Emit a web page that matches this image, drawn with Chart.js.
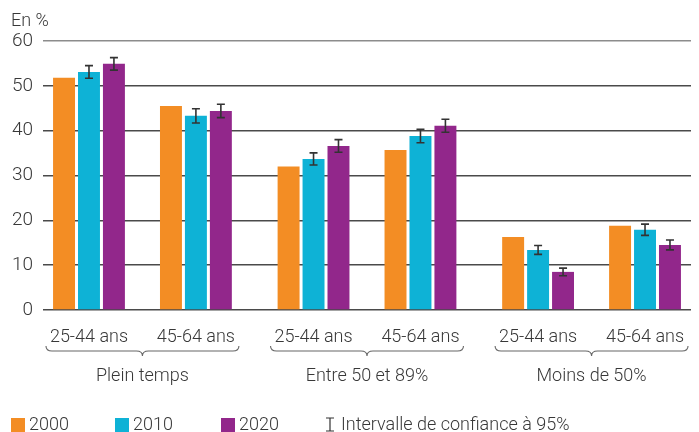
<!DOCTYPE html>
<html>
<head>
<meta charset="utf-8">
<script src="https://cdn.jsdelivr.net/npm/chart.js@4/dist/chart.umd.min.js"></script>
<style>
  html, body { margin: 0; padding: 0; background: #fff; }
  #wrap { width: 699px; height: 432px; position: relative; }
</style>
</head>
<body>
<div id="wrap"><canvas id="chart"></canvas></div>
<script>
// categories (x positions leave a slightly wider gap between the three groups)
var catLabels = ['25-44 ans', '45-64 ans', '25-44 ans', '45-64 ans', '25-44 ans', '45-64 ans'];
var catPos = [0, 1, 2.1, 3.1, 4.2, 5.2];
var groupLabels = ['Plein temps', 'Entre 50 et 89%', 'Moins de 50%'];

var years = ['2000', '2010', '2020'];
var v2000 = [51.8, 45.5, 32.0, 35.7, 16.3, 18.8];
var v2010 = [53.1, 43.3, 33.7, 38.8, 13.4, 17.9];
var v2020 = [54.9, 44.4, 36.6, 41.1, 8.5, 14.5];
// demi-largeur de l'intervalle de confiance (pas d'intervalle pour 2000)
var err2010 = [1.4, 1.6, 1.35, 1.5, 1.0, 1.25];
var err2020 = [1.4, 1.5, 1.4, 1.45, 0.85, 1.1];

var yTicks = [0, 10, 20, 30, 40, 50, 60];

var colors = ['#F38D24', '#0EB2D6', '#92278B'];
var textColor = '#383838';
var FONT = 'Roboto, "Liberation Sans", Arial, sans-serif';
var WEIGHT = '300';

function pts(vals) {
    return vals.map(function (v, i) { return { x: catPos[i], y: v }; });
}

var errs = [null, err2010, err2020];

var errorBars = {
    id: 'errorBars',
    afterDatasetsDraw: function (chart) {
        var ctx = chart.ctx;
        var yScale = chart.scales.y;
        ctx.save();
        ctx.strokeStyle = '#333';
        ctx.lineWidth = 1.6;
        for (var d = 0; d < chart.data.datasets.length; d++) {
            var e = errs[d];
            if (!e) continue;
            var meta = chart.getDatasetMeta(d);
            meta.data.forEach(function (bar, j) {
                var v = chart.data.datasets[d].data[j].y;
                var top = yScale.getPixelForValue(v + e[j]);
                var bot = yScale.getPixelForValue(v - e[j]);
                ctx.beginPath();
                ctx.moveTo(bar.x, top); ctx.lineTo(bar.x, bot);
                ctx.moveTo(bar.x - 4, top); ctx.lineTo(bar.x + 4, top);
                ctx.moveTo(bar.x - 4, bot); ctx.lineTo(bar.x + 4, bot);
                ctx.stroke();
            });
        }
        ctx.restore();
    }
};

function drawBrace(ctx, x0, x1, y) {
    var xc = (x0 + x1) / 2;
    ctx.beginPath();
    ctx.moveTo(x0, y - 5);
    ctx.quadraticCurveTo(x0, y, x0 + 6, y);
    ctx.lineTo(xc - 6, y);
    ctx.quadraticCurveTo(xc, y, xc, y + 5);
    ctx.quadraticCurveTo(xc, y, xc + 6, y);
    ctx.lineTo(x1 - 6, y);
    ctx.quadraticCurveTo(x1, y, x1, y - 5);
    ctx.stroke();
}

var decorations = {
    id: 'decorations',
    afterDraw: function (chart) {
        var ctx = chart.ctx;
        var x = chart.scales.x;
        ctx.save();
        ctx.fillStyle = textColor;
        ctx.font = WEIGHT + ' 18px ' + FONT;
        ctx.textBaseline = 'middle';

        // unité
        ctx.textAlign = 'left';
        ctx.fillText('En %', 11, 21);

        // accolades et libellés de groupe
        ctx.strokeStyle = '#666';
        ctx.lineWidth = 1.1;
        ctx.textAlign = 'center';
        for (var g = 0; g < groupLabels.length; g++) {
            var a = x.getPixelForValue(catPos[g * 2]);
            var b = x.getPixelForValue(catPos[g * 2 + 1]);
            drawBrace(ctx, a - 43, b + 43, 351);
            ctx.fillText(groupLabels[g], (a + b) / 2, 376);
        }

        // légende
        ctx.textAlign = 'left';
        var lx = [11, 115, 221];
        for (var i = 0; i < years.length; i++) {
            ctx.fillStyle = colors[i];
            ctx.fillRect(lx[i], 418, 14, 14);
            ctx.fillStyle = textColor;
            ctx.fillText(years[i], lx[i] + 18, 425);
        }
        ctx.strokeStyle = '#333';
        ctx.lineWidth = 1.2;
        ctx.beginPath();
        ctx.moveTo(330, 418); ctx.lineTo(330, 431);
        ctx.moveTo(326, 418); ctx.lineTo(334, 418);
        ctx.moveTo(326, 431); ctx.lineTo(334, 431);
        ctx.stroke();
        ctx.fillText('Intervalle de confiance à 95%', 341, 425);
        ctx.restore();
    }
};

var datasets = [v2000, v2010, v2020].map(function (vals, i) {
    return {
        label: years[i],
        data: pts(vals),
        backgroundColor: colors[i],
        borderWidth: 0,
        categoryPercentage: 0.70,
        barPercentage: 0.88
    };
});

new Chart(document.getElementById('chart'), {
    type: 'bar',
    data: { datasets: datasets },
    plugins: [errorBars, decorations],
    options: {
        responsive: true,
        maintainAspectRatio: false,
        animation: false,
        layout: { padding: { top: 41, left: 0, right: 8, bottom: 82 } },
        plugins: {
            legend: { display: false },
            tooltip: { enabled: false }
        },
        scales: {
            x: {
                type: 'linear',
                offset: false,
                min: -0.43,
                max: 5.63,
                afterBuildTicks: function (scale) {
                    scale.ticks = catPos.map(function (v) { return { value: v }; });
                },
                afterFit: function (scale) { scale.height = 40; },
                grid: { display: false, offset: false },
                border: { display: false },
                ticks: {
                    autoSkip: false,
                    maxRotation: 0,
                    padding: 9,
                    color: textColor,
                    font: { family: FONT, size: 18, weight: WEIGHT },
                    callback: function (v, i) { return catLabels[i]; }
                }
            },
            y: {
                min: 0,
                max: 60,
                afterBuildTicks: function (scale) {
                    scale.ticks = yTicks.map(function (v) { return { value: v }; });
                },
                afterFit: function (scale) { scale.width = 43; },
                border: { display: false },
                grid: {
                    drawTicks: false,
                    lineWidth: 1.6,
                    color: function (c) { return c.tick && c.tick.value === 60 ? '#8c8c8c' : '#4a4a4a'; }
                },
                ticks: {
                    padding: 10,
                    color: textColor,
                    font: { family: FONT, size: 19, weight: WEIGHT }
                }
            }
        }
    }
});
</script>
</body>
</html>
